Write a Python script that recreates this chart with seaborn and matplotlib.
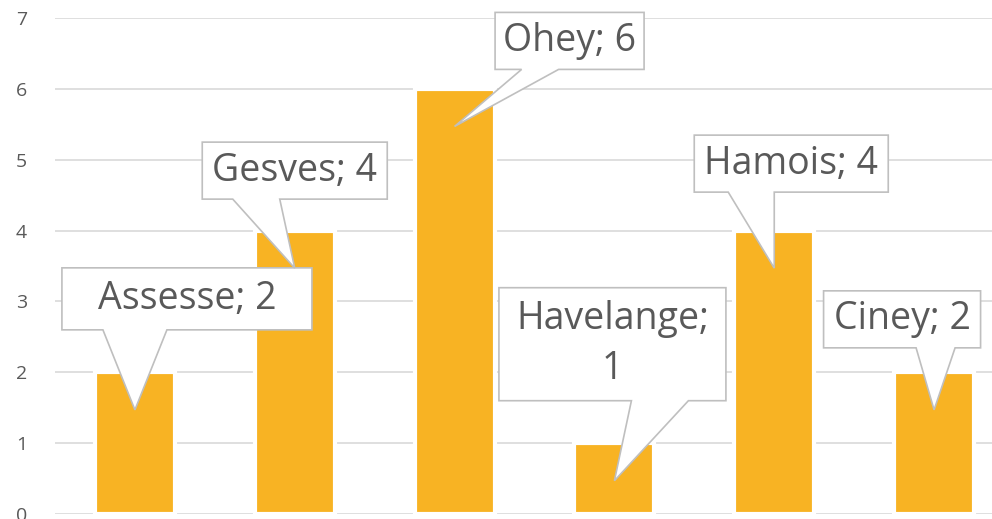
import matplotlib
matplotlib.use("Agg")
import matplotlib.pyplot as plt
import seaborn as sns
import pandas as pd
from matplotlib.patches import Polygon

communes = ["Assesse", "Gesves", "Ohey", "Havelange", "Hamois", "Ciney"]
counts = [2, 4, 6, 1, 4, 2]
label_texts = ["Assesse; 2", "Gesves; 4", "Ohey; 6", "Havelange;\n1", "Hamois; 4", "Ciney; 2"]
y_ticks = [0, 1, 2, 3, 4, 5, 6, 7]

# callout geometry in pixels relative to the tip (dx of box centre, gap above tip, box w, box h, wedge base left/right rel. to tip)
callouts = [
    (52, 80, 250, 62, -32, 32),
    (0, 69, 185, 57, -62, -15),
    (115, 57, 149, 57, 67, 104),
    (-2, 80, 227, 113, 17, 74),
    (17, 76, 194, 57, -46, 0),
    (-32, 62, 157, 57, -18, 21),
]

sns.set_theme(style="white")
plt.rcParams["font.family"] = ["Open Sans", "DejaVu Sans"]

W, H = 992, 519
fig = plt.figure(figsize=(W / 100, H / 100), dpi=100)
ax = fig.add_axes([55 / W, 5 / H, (1014 - 55) / W, (514 - 18) / H])

df = pd.DataFrame({"commune": communes, "count": counts})
sns.barplot(data=df, x="commune", y="count", color="#F8B323", saturation=1,
            width=0.5, edgecolor="white", linewidth=3, ax=ax, zorder=3)

ax.set_xlim(-0.5, len(communes) - 0.5)
ax.set_ylim(0, 7)
ax.set_yticks(y_ticks)
ax.yaxis.grid(True, color="#D9D9D9", linewidth=1.2, zorder=0)
ax.xaxis.grid(False)
ax.set_axisbelow(True)
for s in ax.spines.values():
    s.set_visible(False)
ax.set_xticks([])
ax.set_xlabel("")
ax.set_ylabel("")
ax.tick_params(axis="y", length=0, pad=20, labelsize=14, labelcolor="#595959")

to_disp = ax.transData
to_data = ax.transData.inverted()
for i, (val, txt, (dx, gap, bw, bh, bl, br)) in enumerate(zip(counts, label_texts, callouts)):
    tx, ty = to_disp.transform((i, val - 0.53))
    bottom = ty + gap
    top = bottom + bh
    cx = tx + dx
    left, right = cx - bw / 2, cx + bw / 2
    pts_disp = [
        (left, top), (right, top), (right, bottom),
        (tx + br, bottom), (tx, ty), (tx + bl, bottom),
        (left, bottom),
    ]
    pts = to_data.transform(pts_disp)
    poly = Polygon(pts, closed=True, facecolor="white", edgecolor="#BFBFBF",
                   linewidth=1.2, zorder=5, clip_on=False)
    ax.add_patch(poly)
    c = to_data.transform((cx, (top + bottom) / 2))
    ax.text(c[0], c[1], txt, ha="center", va="center", fontsize=27,
            color="#595959", zorder=6, linespacing=1.4)

fig.savefig("out.png", dpi=100)
